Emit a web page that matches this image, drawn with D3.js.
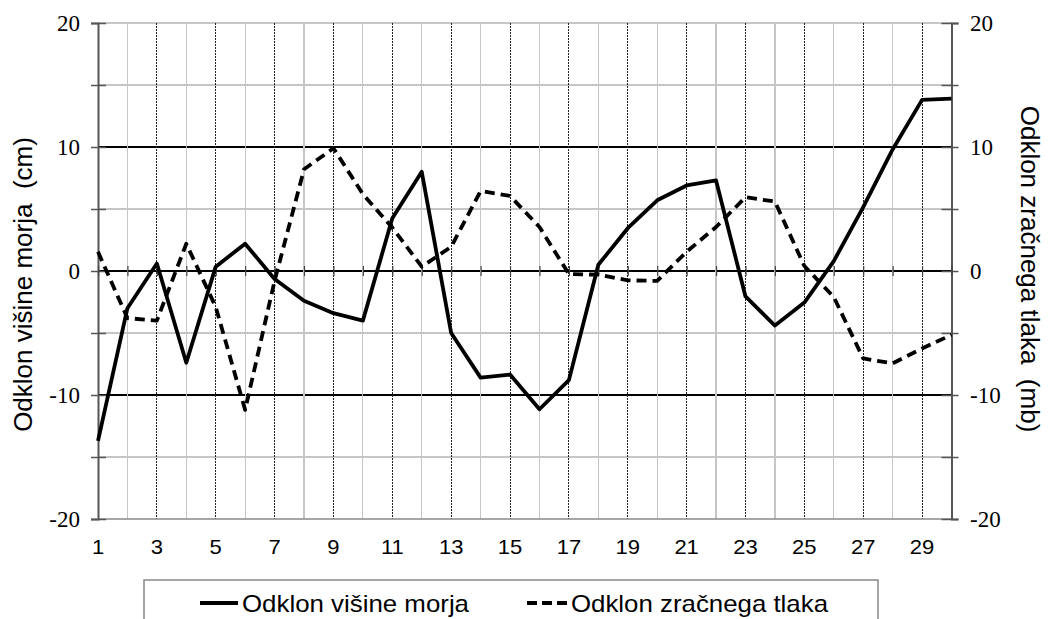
<!DOCTYPE html>
<html>
<head>
<meta charset="utf-8">
<script src="https://cdn.jsdelivr.net/npm/d3@7"></script>
<style>
  html, body { margin: 0; padding: 0; background: #fff; }
  svg { display: block; }
</style>
</head>
<body>
<svg id="chart" width="1048" height="619"></svg>
<script>
// Days of the month
const days = d3.range(1, 31);

// Sea level deviation (cm), left axis
const seaLevel = [
  -13.7, -3.0, 0.6, -7.4, 0.35, 2.2, -0.65, -2.4, -3.4, -4.0,
  4.25, 8.0, -5.0, -8.6, -8.35, -11.15, -8.8, 0.5, 3.45, 5.7,
  6.9, 7.3, -2.05, -4.4, -2.55, 0.8, 5.15, 9.8, 13.8, 13.9
];

// Air pressure deviation (mb), right axis
const airPressure = [
  1.55, -3.8, -4.0, 2.2, -2.9, -11.2, -0.8, 8.2, 9.9, 6.2,
  3.5, 0.35, 1.95, 6.45, 6.05, 3.55, -0.25, -0.3, -0.75, -0.8,
  1.55, 3.55, 5.95, 5.6, 0.4, -2.1, -7.05, -7.45, -6.25, -5.15
];

const yTicks = d3.range(-20, 21, 5);
const yLabels = [-20, -10, 0, 10, 20];
const xLabelDays = d3.range(1, 30, 2);

const seriesNames = ["Odklon višine morja", "Odklon zračnega tlaka"];
const leftTitle = "Odklon višine morja  (cm)";
const rightTitle = "Odklon zračnega tlaka  (mb)";

const svg = d3.select("#chart");
const plot = { left: 98, right: 951.5, top: 23, bottom: 519 };

const x = d3.scaleLinear().domain([1, 30]).range([plot.left, plot.right]);
const yL = d3.scaleLinear().domain([-20, 20]).range([plot.bottom, plot.top]);
const yR = d3.scaleLinear().domain([-20, 20]).range([plot.bottom, plot.top]);

const sans = "Liberation Sans, Arial, sans-serif";
const serif = "Liberation Serif, Times New Roman, serif";

// Horizontal gridlines: light at ±5, ±15, 20, dark at 0 and ±10
const grid = svg.append("g");
grid.selectAll("line.h")
  .data(yTicks.filter(v => v !== -20))
  .join("line")
  .attr("x1", plot.left).attr("x2", plot.right)
  .attr("y1", d => yL(d)).attr("y2", d => yL(d))
  .attr("stroke", d => (d % 10 === 0 && d !== 20) ? "#000" : "#c6c6c6")
  .attr("stroke-width", d => d === 20 ? 2 : 1.2)
  .attr("shape-rendering", "crispEdges");

// Vertical gridlines: light solid on even days, fine dotted dark on odd days
grid.selectAll("line.v")
  .data(days.filter(d => d > 1 && d < 30))
  .join("line")
  .attr("x1", d => x(d)).attr("x2", d => x(d))
  .attr("y1", plot.top).attr("y2", plot.bottom)
  .attr("stroke", d => d % 2 === 1 ? "#222" : "#c6c6c6")
  .attr("stroke-width", d => d % 2 === 1 ? 1 : 1.2)
  .attr("stroke-dasharray", d => d % 2 === 1 ? "2,1" : null)
  .attr("shape-rendering", "crispEdges");

// Bottom boundary
svg.append("line")
  .attr("x1", plot.left).attr("x2", plot.right)
  .attr("y1", yL(-20)).attr("y2", yL(-20))
  .attr("stroke", "#8a8a8a").attr("stroke-width", 1.5);

// Left axis (tick marks cross the axis line)
const leftAxis = svg.append("g")
  .attr("transform", `translate(${plot.left},0)`)
  .call(d3.axisLeft(yL).tickValues(yTicks).tickSize(7).tickFormat(""));
leftAxis.select(".domain").attr("stroke", "#555").attr("stroke-width", 2);
leftAxis.selectAll(".tick line").attr("stroke", "#555").attr("stroke-width", 1.5);
leftAxis.selectAll(".tick").append("line")
  .attr("x2", 8).attr("stroke", "#555").attr("stroke-width", 1.5);

// Right axis
const rightAxis = svg.append("g")
  .attr("transform", `translate(${plot.right},0)`)
  .call(d3.axisRight(yR).tickValues(yTicks).tickSize(7).tickFormat(""));
rightAxis.select(".domain").attr("stroke", "#555").attr("stroke-width", 2);
rightAxis.selectAll(".tick line").attr("stroke", "#555").attr("stroke-width", 1.5);
rightAxis.selectAll(".tick").append("line")
  .attr("x2", -10).attr("stroke", "#555").attr("stroke-width", 1.5);

// Value labels on both axes
svg.append("g").selectAll("text")
  .data(yLabels)
  .join("text")
  .attr("x", 80).attr("y", d => yL(d)).attr("dy", "0.35em")
  .attr("text-anchor", "end")
  .style("font-family", serif).style("font-size", "23px").style("fill", "#000")
  .text(d => d);

svg.append("g").selectAll("text")
  .data(yLabels)
  .join("text")
  .attr("x", 970).attr("y", d => yR(d)).attr("dy", "0.35em")
  .attr("text-anchor", "start")
  .style("font-family", serif).style("font-size", "23px").style("fill", "#000")
  .text(d => d);

// Category axis crossing at zero
const zeroAxis = svg.append("g")
  .attr("transform", `translate(0,${yL(0)})`)
  .call(d3.axisBottom(x).tickValues(days).tickSize(5).tickFormat(""));
zeroAxis.select(".domain").remove();
zeroAxis.selectAll(".tick line").attr("stroke", "#444").attr("stroke-width", 1.2);
zeroAxis.selectAll(".tick").append("line")
  .attr("y2", -5).attr("stroke", "#444").attr("stroke-width", 1.2);

// Day labels along the bottom
svg.append("g").selectAll("text")
  .data(xLabelDays)
  .join("text")
  .attr("transform", d => `translate(${x(d)},554) scale(1.1,1)`)
  .attr("text-anchor", "middle")
  .style("font-family", sans).style("font-size", "20px").style("fill", "#000")
  .text(d => d);

// Series lines
const lineSea = d3.line().x((d, i) => x(days[i])).y(d => yL(d));
const linePress = d3.line().x((d, i) => x(days[i])).y(d => yR(d));

svg.append("path")
  .datum(airPressure)
  .attr("d", linePress)
  .attr("fill", "none").attr("stroke", "#000")
  .attr("stroke-width", 3.8).attr("stroke-dasharray", "10,6")
  .attr("stroke-linejoin", "round");

svg.append("path")
  .datum(seaLevel)
  .attr("d", lineSea)
  .attr("fill", "none").attr("stroke", "#000")
  .attr("stroke-width", 3.8)
  .attr("stroke-linejoin", "round");

// Axis titles
svg.append("text")
  .attr("transform", "translate(32,284.5) rotate(-90)")
  .attr("text-anchor", "middle")
  .style("font-family", sans).style("font-size", "26px").style("fill", "#000")
  .style("white-space", "pre")
  .text(leftTitle);

svg.append("text")
  .attr("transform", "translate(1021,269) rotate(90)")
  .attr("text-anchor", "middle")
  .style("font-family", sans).style("font-size", "26px").style("fill", "#000")
  .style("white-space", "pre")
  .text(rightTitle);

// Legend
const legend = svg.append("g");
legend.append("rect")
  .attr("x", 144).attr("y", 580).attr("width", 734).attr("height", 60)
  .attr("fill", "#fff").attr("stroke", "#888").attr("stroke-width", 1.5);

const legendItems = [
  { name: seriesNames[0], x0: 200, x1: 238, dash: null, w: 227 },
  { name: seriesNames[1], x0: 527, x1: 567, dash: "10,5", w: 257 }
];
const li = legend.selectAll("g.item").data(legendItems).join("g");
li.append("line")
  .attr("x1", d => d.x0).attr("x2", d => d.x1)
  .attr("y1", 603).attr("y2", 603)
  .attr("stroke", "#000").attr("stroke-width", 3.8)
  .attr("stroke-dasharray", d => d.dash);
li.append("text")
  .attr("x", d => d.x1 + 4).attr("y", 612)
  .attr("textLength", d => d.w).attr("lengthAdjust", "spacingAndGlyphs")
  .style("font-family", sans).style("font-size", "24px").style("fill", "#000")
  .text(d => d.name);
</script>
</body>
</html>
